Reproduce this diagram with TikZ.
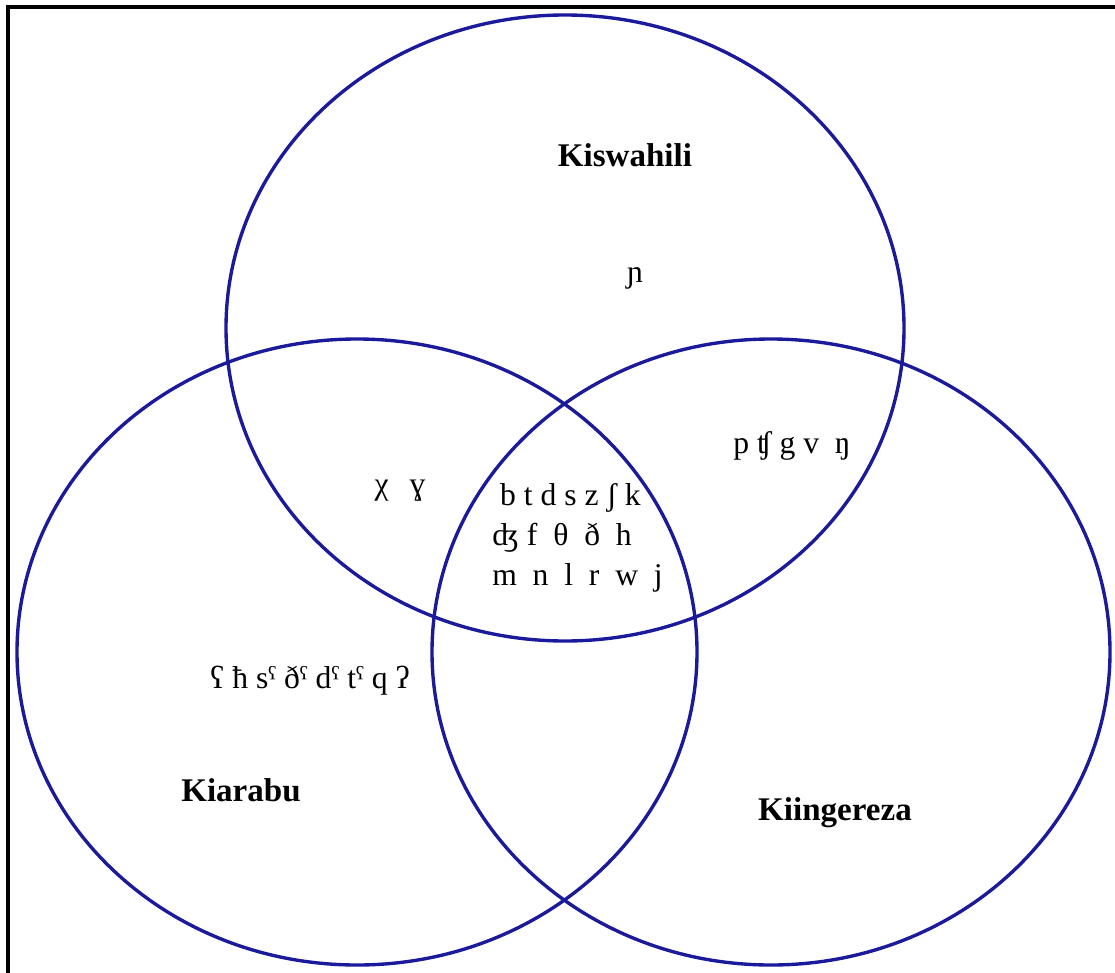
\documentclass[tikz,border=0pt]{standalone}
\usepackage{fontspec}
\setmainfont{Liberation Serif}
\definecolor{ringblue}{RGB}{26,26,155}

\begin{document}
\begin{tikzpicture}[x=0.025cm, y=-0.025cm,
    ring/.style={ringblue, line width=2.4pt},
    lang/.style={font=\fontsize{23.5}{28}\selectfont\bfseries, inner sep=0pt},
    sound/.style={font=\fontsize{22.5}{28.5}\selectfont, inner sep=0pt}]
    \useasboundingbox (0,0) rectangle (1115,972);

    % frame, cut off at right and bottom
    \draw[line width=2.2pt] (8,985) -- (8,7) -- (1125,7);

    % the three sets
    \draw[ring] (565,328) ellipse [x radius=339, y radius=313];
    \draw[ring] (357,652) ellipse [x radius=340, y radius=313];
    \draw[ring] (771,652) ellipse [x radius=339, y radius=313];

    % names of the languages
    \node[lang] (kiswahili) at (625,155) {Kiswahili};
    \node[lang] (kiarabu) at (241,790) {Kiarabu};
    \node[lang] (kiingereza) at (835,813) {Kiingereza};

    % sounds in each region
    \node[sound] (swOnly) at (635,278) {ɲ};
    \node[sound] (swAr) at (400,491) {χ~~\,ɣ};
    \node[sound] (swEn) at (792,446) {p ʧ g v~~ŋ};
    \node[sound] (arOnly) at (310,681) {ʕ ħ sˤ ðˤ dˤ tˤ q ʔ};
    \node[sound, align=left, anchor=north west] (allThree) at (492,483)
        {~b t d s z ʃ k\\ʤ f~~θ~~ð~~h\\m~~n~~l~~r~~w~~j};
\end{tikzpicture}
\end{document}
